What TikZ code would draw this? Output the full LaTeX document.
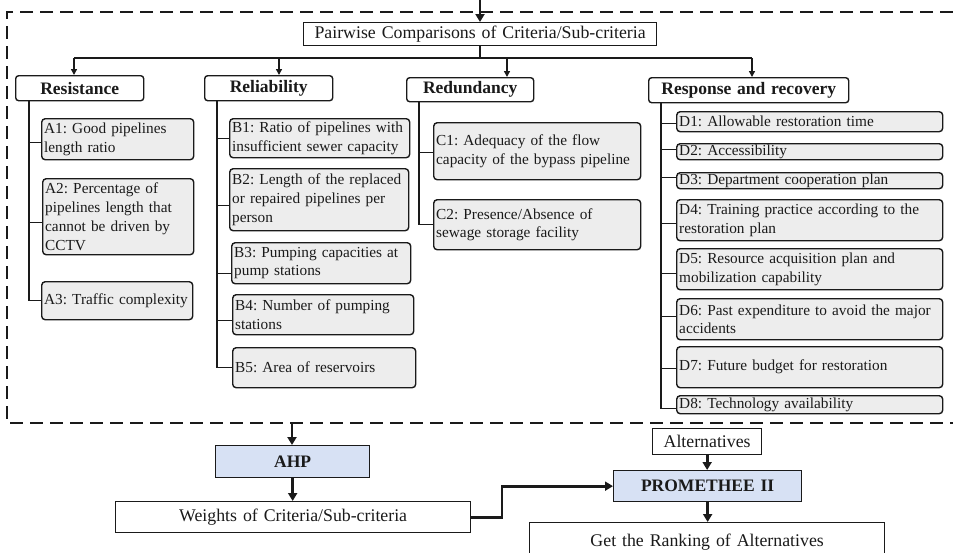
\documentclass[tikz,border=0pt]{standalone}
\usepackage{fontspec}
\setmainfont{Liberation Serif}
\usetikzlibrary{arrows.meta}
\definecolor{boxgray}{HTML}{EDEDED}
\definecolor{boxblue}{HTML}{D7E1F4}
\definecolor{ink}{HTML}{1A1A1A}
\frenchspacing
\hyphenpenalty=10000
\exhyphenpenalty=10000
\newcommand\bx[7][]{%
  \pgfmathsetmacro\bxw{#5-#3}%
  \pgfmathsetmacro\bxh{#6-#4}%
  \pgfmathsetmacro\bxt{#5-#3-5}%
  \node[anchor=north west, minimum width=\bxw pt, minimum height=\bxh pt,
        text width=\bxt pt, inner xsep=2.5pt, inner ysep=0pt, #1] (#2) at (#3,#4) {#7};}
\newcommand\stub[3]{%
  \path ([yshift=#3]#2.west) coordinate (#2c);
  \draw[conn] (#1 |- #2c) -- (#2c);}
\begin{document}
\begin{tikzpicture}[x=1pt,y=-1pt,
  conn/.style={draw=ink, line width=1.4pt},
  tip/.style={conn, -{Triangle[length=6pt,width=6pt]}},
  big/.style={draw=ink, line width=2.8pt, -{Triangle[length=8pt,width=9pt]}},
  plain/.style={draw=ink, line width=1.3pt, fill=white, align=center, text=ink,
                font=\fontsize{17.8}{21}\selectfont},
  head/.style={draw=ink, line width=1.4pt, fill=white, rounded corners=3pt, align=center,
               text=ink, font=\fontsize{17.5}{20}\selectfont\bfseries},
  sub/.style={draw=ink, line width=1.4pt, fill=boxgray, rounded corners=3.5pt, align=left,
              text=ink, font=\fontsize{15.3}{18.7}\selectfont},
  method/.style={plain, fill=boxblue, font=\fontsize{17.5}{20}\selectfont\bfseries},
  dashedline/.style={draw=ink, line width=1.5pt, dash pattern=on 13pt off 7pt}]
\useasboundingbox (0,0) rectangle (953,552);

% dashed frame
\draw[dashedline] (953,12) -- (7,12) -- (7,423) -- (953,423);

% top
\bx[plain]{pair}{303}{22}{656}{45}{Pairwise Comparisons of Criteria/Sub-criteria}
\coordinate (topin) at (480,0);
\draw[big] (topin) -- (pair.north -| topin);

% headings
\bx[head]{res}{15}{75}{143}{100}{Resistance}
\bx[head]{rel}{204}{75}{332}{100}{Reliability}
\bx[head]{red}{406}{77}{533}{101}{Redundancy}
\bx[head]{rsp}{648}{77}{848}{102}{Response and recovery}

\coordinate (hub) at (480,58);
\coordinate (hA) at (74,58);
\coordinate (hB) at (279,58);
\coordinate (hC) at (507,58);
\coordinate (hD) at (752,58);
\draw[conn] (pair.south -| hub) -- (hub);
\draw[conn] (hA) -- (hD);
\draw[tip] (hA) -- (res.north -| hA);
\draw[tip] (hB) -- (rel.north -| hB);
\draw[tip] (hC) -- (red.north -| hC);
\draw[tip] (hD) -- (rsp.north -| hD);

% Resistance
\bx[sub]{A1}{41}{118}{193}{159}{A1: Good pipelines\\length ratio}
\bx[sub]{A2}{42}{178}{193}{254}{A2: Percentage of\\pipelines length that\\cannot be driven by\\CCTV}
\bx[sub]{A3}{41}{281}{192}{319}{A3: Traffic complexity}
\coordinate (tA) at (29,0);
\stub{tA}{A1}{-3.5pt}
\stub{tA}{A2}{-6pt}
\stub{tA}{A3}{0pt}
\draw[conn] (res.south -| tA) -- ([yshift=-0.7pt]tA |- A3c);

% Reliability
\bx[sub]{B1}{229}{118}{409}{157}{B1: Ratio of pipelines with\\insufficient sewer capacity}
\bx[sub]{B2}{229}{168}{408}{230}{B2: Length of the replaced\\or repaired pipelines per\\person}
\bx[sub]{B3}{231}{242}{410}{283}{B3: Pumping capacities at\\pump stations}
\bx[sub]{B4}{232}{294}{413}{334}{B4: Number of pumping\\stations}
\bx[sub]{B5}{232}{347}{415}{387}{B5: Area of reservoirs}
\coordinate (tB) at (217,0);
\stub{tB}{B1}{0pt}
\stub{tB}{B2}{-6pt}
\stub{tB}{B3}{-10pt}
\stub{tB}{B4}{-6pt}
\stub{tB}{B5}{0pt}
\draw[conn] (rel.south -| tB) -- ([yshift=-0.7pt]tB |- B5c);

% Redundancy
\bx[sub]{C1}{433}{122}{640}{179}{C1: Adequacy of the flow\\capacity of the bypass pipeline}
\bx[sub]{C2}{433}{199}{640}{249}{C2: Presence/Absence of\\sewage storage facility}
\coordinate (tC) at (419,0);
\stub{tC}{C1}{-1pt}
\stub{tC}{C2}{0pt}
\draw[conn] (red.south -| tC) -- ([yshift=-0.7pt]tC |- C2c);

% Response and recovery
\bx[sub]{D1}{676}{111}{942}{131}{D1: Allowable restoration time}
\bx[sub]{D2}{676}{143}{942}{159}{D2: Accessibility}
\bx[sub]{D3}{676}{172}{942}{188}{D3: Department cooperation plan}
\bx[sub]{D4}{676}{199}{942}{240}{D4: Training practice according to the\\restoration plan}
\bx[sub]{D5}{676}{248}{942}{289}{D5: Resource acquisition plan and\\mobilization capability}
\bx[sub]{D6}{676}{298}{942}{339}{D6: Past expenditure to avoid the major\\accidents}
\bx[sub]{D7}{676}{346}{942}{387}{D7: Future budget for restoration}
\bx[sub]{D8}{676}{395}{942}{413}{D8: Technology availability}
\coordinate (tD) at (661,0);
\stub{tD}{D1}{-2pt}
\stub{tD}{D2}{2pt}
\stub{tD}{D3}{3pt}
\stub{tD}{D4}{-3.5pt}
\stub{tD}{D5}{-4.5pt}
\stub{tD}{D6}{2.5pt}
\stub{tD}{D7}{-1.5pt}
\stub{tD}{D8}{-4pt}
\draw[conn] (rsp.south -| tD) -- ([yshift=-0.7pt]tD |- D8c);

% bottom flow
\bx[method]{ahp}{215}{445}{369}{477}{AHP}
\bx[plain]{wts}{115}{501}{470}{532}{Weights of Criteria/Sub-criteria}
\bx[plain]{alt}{652}{428}{761}{454}{Alternatives}
\bx[method]{prom}{613}{470}{801}{501}{PROMETHEE II}
\bx[plain]{rank}{529}{522}{884}{562}{\raisebox{4pt}{Get the Ranking of Alternatives}}

\coordinate (frameout) at (292,423);
\coordinate (elbow) at (502,0);
\draw[big] (frameout) -- (ahp.north -| frameout);
\draw[big] (ahp.south) -- (wts.north -| ahp.south);
\draw[big] (wts.east) -- (wts.east -| elbow) |- (prom.west);
\draw[big] (alt.south) -- (prom.north -| alt.south);
\draw[big] (prom.south) -- (rank.north -| prom.south);
\end{tikzpicture}
\end{document}
